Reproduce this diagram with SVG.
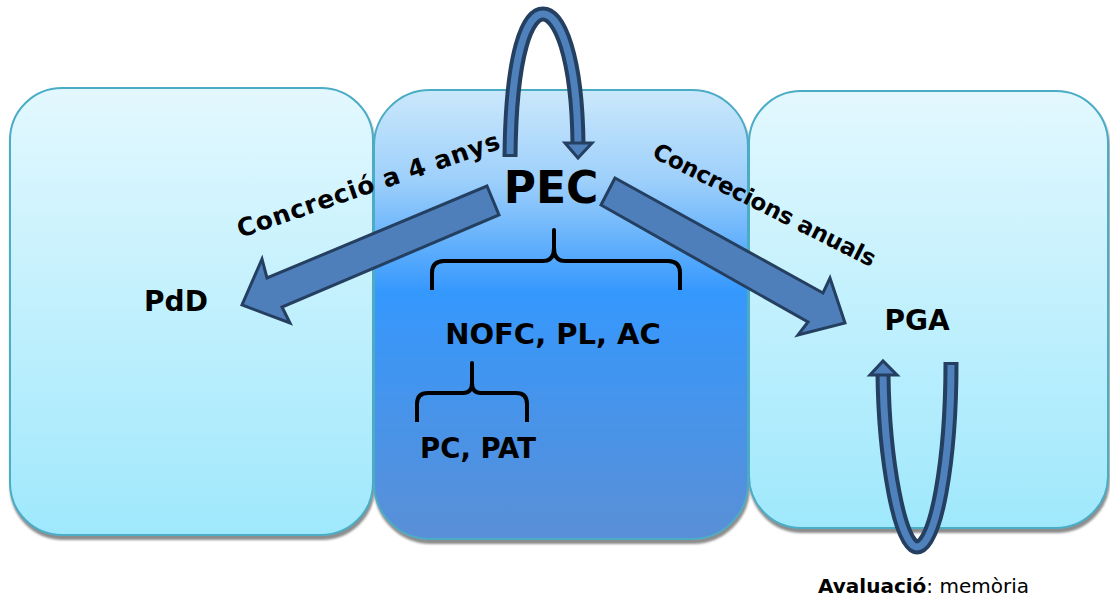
<svg xmlns="http://www.w3.org/2000/svg" width="1110" height="601" viewBox="0 0 1110 601">
<defs>
<linearGradient id="gLight" x1="0" y1="0" x2="0" y2="1">
<stop offset="0" stop-color="#e3f8fe"/>
<stop offset="1" stop-color="#9fe8fc"/>
</linearGradient>
<linearGradient id="gMid" x1="0" y1="0" x2="0" y2="1">
<stop offset="0" stop-color="#cbe8fb"/>
<stop offset="0.2" stop-color="#9ed0fb"/>
<stop offset="0.45" stop-color="#3598fd"/>
<stop offset="1" stop-color="#5a8fd6"/>
</linearGradient>
<filter id="sh" x="-5%" y="-5%" width="110%" height="110%">
<feGaussianBlur in="SourceAlpha" stdDeviation="1"/>
<feOffset dx="1" dy="4" result="o"/>
<feFlood flood-color="#808080" flood-opacity="0.9"/>
<feComposite in2="o" operator="in"/>
<feMerge><feMergeNode/><feMergeNode in="SourceGraphic"/></feMerge>
</filter>
</defs>
<style>
.box{stroke:#4bacc6;stroke-width:2;filter:url(#sh)}
.lbl{font-family:"DejaVu Sans",Verdana,sans-serif;font-weight:bold;fill:#000}
.brace{fill:none;stroke:#000;stroke-width:4;stroke-linejoin:round}
.arr{fill:#4f7fba;stroke:#243f60;stroke-width:3;stroke-linejoin:miter}
.uo{fill:none;stroke:#243f60;stroke-width:15}
.ui{fill:none;stroke:#4f81bd;stroke-width:7}
</style>
<g id="box-PdD">
<rect class="box" x="10" y="88" width="363" height="447" rx="52" fill="url(#gLight)"/>
<text class="lbl" x="176" y="311" font-size="28" text-anchor="middle">PdD</text>
</g>
<g id="box-PEC">
<rect class="box" x="374" y="90" width="374" height="449" rx="56" fill="url(#gMid)"/>
</g>
<g id="box-PGA">
<rect class="box" x="749" y="91" width="359" height="437" rx="52" fill="url(#gLight)"/>
<text class="lbl" x="917" y="330" font-size="28" text-anchor="middle">PGA</text>
</g>
<g id="connectors">
<path class="uo" d="M510,157 C511,50 528,14 543,14 C559,14 577,55 578,144"/>
<path class="ui" d="M510,154 C511,50 528,14 543,14 C559,14 577,55 578,144"/>
<polygon class="arr" points="565,143 592,143 578,158"/>
<path class="uo" d="M951,362 C951,460 936,547 917,547 C900,547 884,460 883,374"/>
<path class="ui" d="M951,365 C951,460 936,547 917,547 C900,547 884,460 883,374"/>
<polygon class="arr" points="870,375 897,375 883,361"/>
<polygon class="arr" points="487,186 499,215 282,307 290,323 242,305 262,259 267,278"/>
<polygon class="arr" points="615,178 601,205 808,322 798,335 845,323 830,278 823,293"/>
<text class="lbl" font-size="25" transform="translate(371,193) rotate(-19)" text-anchor="middle" textLength="276" lengthAdjust="spacing">Concreció a 4 anys</text>
<text class="lbl" font-size="23" transform="translate(761,212) rotate(26.7)" text-anchor="middle" textLength="246" lengthAdjust="spacing">Concrecions anuals</text>
</g>
<g id="node-PEC">
<text class="lbl" x="551" y="203" font-size="44" text-anchor="middle">PEC</text>
</g>
<g id="brace-1">
<path class="brace" d="M432,290 V273 Q432,261 444,261 H543 Q554,261 554,248 V230 V248 Q554,261 565,261 H668 Q680,261 680,273 V290"/>
</g>
<g id="node-NOFC">
<text class="lbl" x="553" y="344" font-size="29" text-anchor="middle">NOFC, PL, AC</text>
</g>
<g id="brace-2">
<path class="brace" d="M417,422 V404 Q417,393 428,393 H463 Q472,393 472,383 V363 V383 Q472,393 481,393 H516 Q527,393 527,404 V422"/>
</g>
<g id="node-PCPAT">
<text class="lbl" x="478" y="458" font-size="27.5" text-anchor="middle">PC, PAT</text>
</g>
<g id="caption">
<text x="818" y="593" font-size="20" font-family="DejaVu Sans,Verdana,sans-serif" fill="#000"><tspan font-weight="bold">Avaluació</tspan>: memòria</text>
</g>
</svg>
